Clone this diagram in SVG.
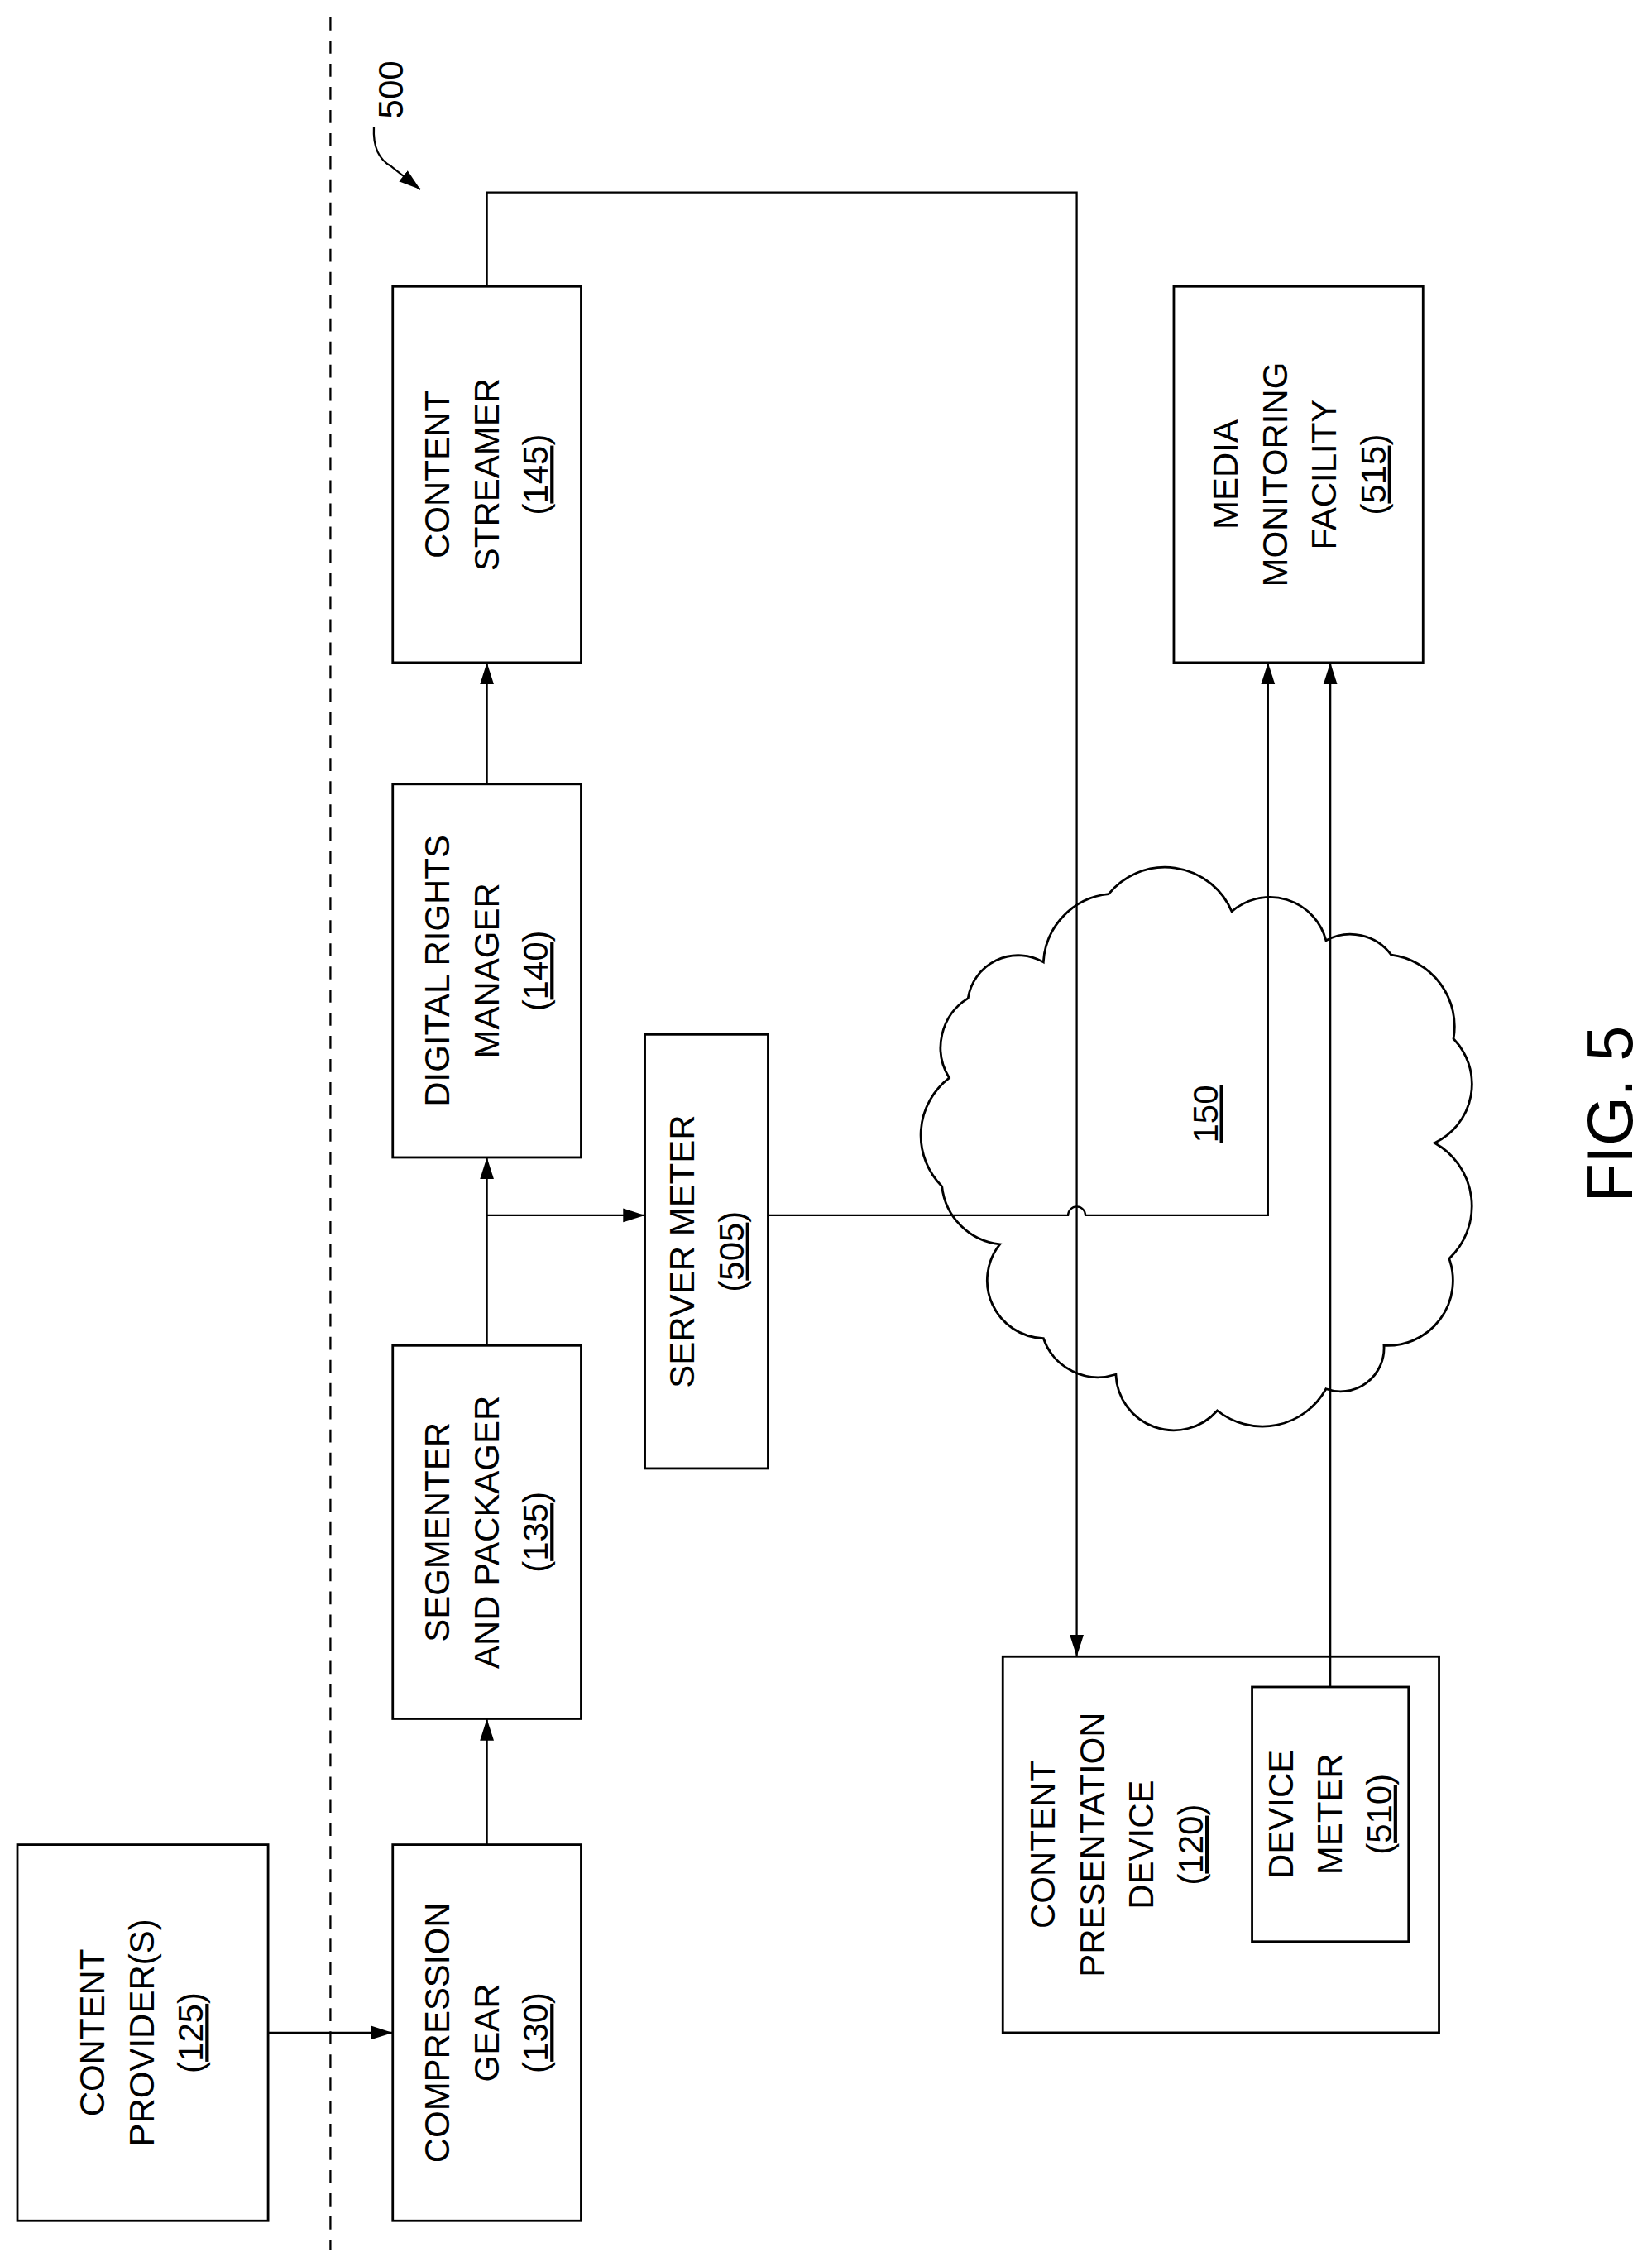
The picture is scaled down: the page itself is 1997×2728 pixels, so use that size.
<svg xmlns="http://www.w3.org/2000/svg" width="1997" height="2728" viewBox="0 0 1997 2728">
<style>
.b{fill:none;stroke:#000;stroke-width:1.6}
.c{fill:none;stroke:#000;stroke-width:1.3}
.t{font-family:"Liberation Sans",Arial,sans-serif;font-size:24px;text-anchor:middle;fill:#000}
</style>
<defs><marker id="a" viewBox="0 0 10 10" refX="10" refY="5" markerWidth="15" markerHeight="15" markerUnits="userSpaceOnUse" orient="auto"><path d="M0,1.8 L10,5 L0,8.2z" fill="#000"/></marker></defs>
<rect width="1997" height="2728" fill="#fff"/>
<g transform="scale(1.7518 1.7487)">
<line x1="228" y1="12" x2="228" y2="1555" stroke="#000" stroke-width="1.3" stroke-dasharray="9,7"/>
<text class="t" transform="translate(270,62) rotate(-90)" dy="8">500</text>
<path class="c" d="M258,88 Q257,108 270,115 L290,131" marker-end="url(#a)"/>
<g id="cloud"><path class="b" d="M655,745 A40,40 0 0 1 668,690 A35,35 0 0 1 720,665 A50,50 0 0 1 765,618 A50,50 0 0 1 850,630 A40,40 0 0 1 915,650 A35,35 0 0 1 960,660 A50,50 0 0 1 1003,718 A45,45 0 0 1 990,790 A50,50 0 0 1 1000,870 A45,45 0 0 1 955,930 A30,30 0 0 1 915,960 A50,50 0 0 1 840,975 A40,40 0 0 1 770,950 A40,40 0 0 1 720,925 A40,40 0 0 1 690,860 A45,45 0 0 1 650,820 A50,50 0 0 1 655,745 Z"/>
<text class="t" transform="translate(832,770) rotate(-90)" dy="8" text-decoration="underline">150</text></g>
<g id="n125"><rect class="b" x="12" y="1275" width="173" height="260"/><text class="t" transform="translate(98,1405) rotate(-90)"><tspan x="0" dy="-26">CONTENT</tspan><tspan x="0" dy="34">PROVIDER(S)</tspan><tspan x="0" dy="34">(<tspan text-decoration="underline">125</tspan>)</tspan></text></g>
<g id="n130"><rect class="b" x="271" y="1275" width="130" height="260"/><text class="t" transform="translate(336,1405) rotate(-90)"><tspan x="0" dy="-26">COMPRESSION</tspan><tspan x="0" dy="34">GEAR</tspan><tspan x="0" dy="34">(<tspan text-decoration="underline">130</tspan>)</tspan></text></g>
<g id="n135"><rect class="b" x="271" y="930" width="130" height="258"/><text class="t" transform="translate(336,1059) rotate(-90)"><tspan x="0" dy="-26">SEGMENTER</tspan><tspan x="0" dy="34">AND PACKAGER</tspan><tspan x="0" dy="34">(<tspan text-decoration="underline">135</tspan>)</tspan></text></g>
<g id="n140"><rect class="b" x="271" y="542" width="130" height="258"/><text class="t" transform="translate(336,671) rotate(-90)"><tspan x="0" dy="-26">DIGITAL RIGHTS</tspan><tspan x="0" dy="34">MANAGER</tspan><tspan x="0" dy="34">(<tspan text-decoration="underline">140</tspan>)</tspan></text></g>
<g id="n145"><rect class="b" x="271" y="198" width="130" height="260"/><text class="t" transform="translate(336,328) rotate(-90)"><tspan x="0" dy="-26">CONTENT</tspan><tspan x="0" dy="34">STREAMER</tspan><tspan x="0" dy="34">(<tspan text-decoration="underline">145</tspan>)</tspan></text></g>
<g id="n505"><rect class="b" x="445" y="715" width="85" height="300"/><text class="t" transform="translate(488,865) rotate(-90)"><tspan x="0" dy="-9">SERVER METER</tspan><tspan x="0" dy="34">(<tspan text-decoration="underline">505</tspan>)</tspan></text></g>
<g id="n515"><rect class="b" x="810" y="198" width="172" height="260"/><text class="t" transform="translate(896,328) rotate(-90)"><tspan x="0" dy="-42">MEDIA</tspan><tspan x="0" dy="34">MONITORING</tspan><tspan x="0" dy="34">FACILITY</tspan><tspan x="0" dy="34">(<tspan text-decoration="underline">515</tspan>)</tspan></text></g>
<g id="n120"><rect class="b" x="692" y="1145" width="301" height="260"/><text class="t" transform="translate(770,1275) rotate(-90)"><tspan x="0" dy="-42">CONTENT</tspan><tspan x="0" dy="34">PRESENTATION</tspan><tspan x="0" dy="34">DEVICE</tspan><tspan x="0" dy="34">(<tspan text-decoration="underline">120</tspan>)</tspan></text></g>
<g id="n510"><rect class="b" x="864" y="1166" width="108" height="176"/><text class="t" transform="translate(918,1254) rotate(-90)"><tspan x="0" dy="-26">DEVICE</tspan><tspan x="0" dy="34">METER</tspan><tspan x="0" dy="34">(<tspan text-decoration="underline">510</tspan>)</tspan></text></g>
<g id="connectors">
<path class="c" d="M185,1405 H271" marker-end="url(#a)"/>
<path class="c" d="M336,1275 V1188" marker-end="url(#a)"/>
<path class="c" d="M336,930 V800" marker-end="url(#a)"/>
<path class="c" d="M336,840 H445" marker-end="url(#a)"/>
<path class="c" d="M336,542 V458" marker-end="url(#a)"/>
<path class="c" d="M336,198 V133 H743 V1145" marker-end="url(#a)"/>
<path class="c" d="M530,840 H737 A6,6 0 0 1 749,840 H875 V458" marker-end="url(#a)"/>
<path class="c" d="M918,1166 V458" marker-end="url(#a)"/>
</g>
<text transform="translate(1110,770) rotate(-90)" dy="16" style="font-family:'Liberation Sans',Arial,sans-serif;font-size:44px;text-anchor:middle">FIG. 5</text>
</g>
</svg>
